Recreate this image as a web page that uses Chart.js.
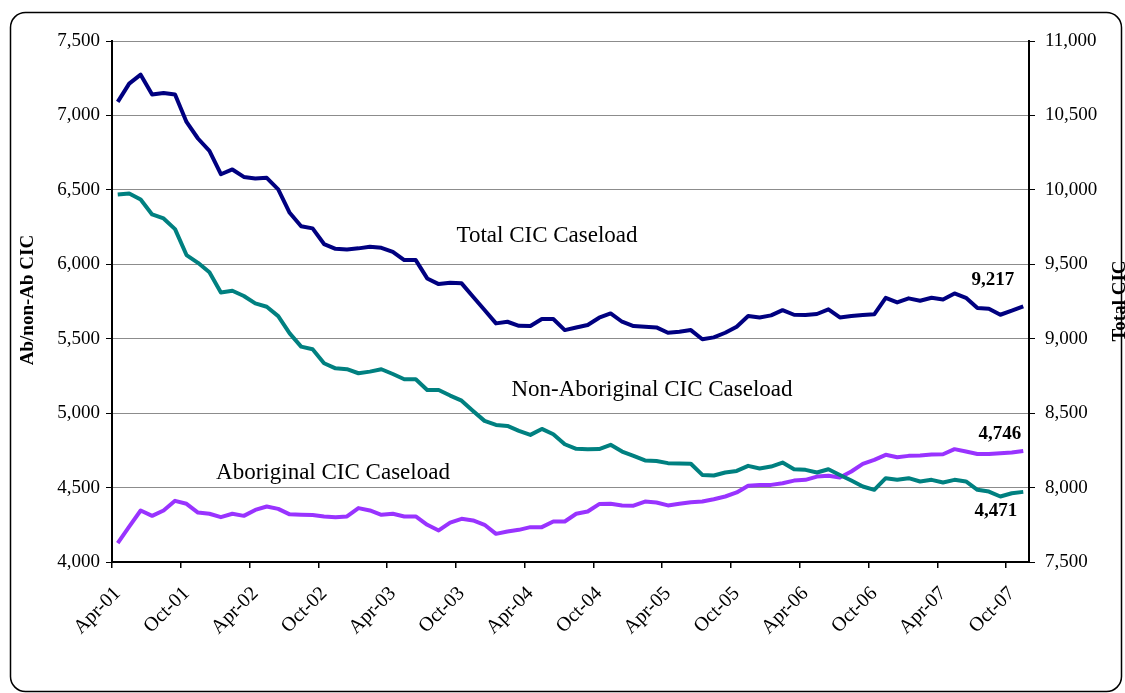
<!DOCTYPE html>
<html><head><meta charset="utf-8">
<script src="https://cdn.jsdelivr.net/npm/chart.js@4/dist/chart.umd.min.js"></script>
<style>html,body{margin:0;padding:0;background:#fff;}#wrap{width:1125px;height:693px;position:relative;}</style>
</head><body><div id="wrap"><canvas id="c" width="1125" height="693"></canvas></div>
<script>
const categories = [
 'Apr-01','May-01','Jun-01','Jul-01','Aug-01','Sep-01','Oct-01','Nov-01','Dec-01','Jan-02','Feb-02','Mar-02',
 'Apr-02','May-02','Jun-02','Jul-02','Aug-02','Sep-02','Oct-02','Nov-02','Dec-02','Jan-03','Feb-03','Mar-03',
 'Apr-03','May-03','Jun-03','Jul-03','Aug-03','Sep-03','Oct-03','Nov-03','Dec-03','Jan-04','Feb-04','Mar-04',
 'Apr-04','May-04','Jun-04','Jul-04','Aug-04','Sep-04','Oct-04','Nov-04','Dec-04','Jan-05','Feb-05','Mar-05',
 'Apr-05','May-05','Jun-05','Jul-05','Aug-05','Sep-05','Oct-05','Nov-05','Dec-05','Jan-06','Feb-06','Mar-06',
 'Apr-06','May-06','Jun-06','Jul-06','Aug-06','Sep-06','Oct-06','Nov-06','Dec-06','Jan-07','Feb-07','Mar-07',
 'Apr-07','May-07','Jun-07','Jul-07','Aug-07','Sep-07','Oct-07','Nov-07'];

const totalCIC = [
 10591,10714,10774,10640,10651,10640,10456,10345,10262,10105,10137,10087,
 10077,10081,10003,9846,9756,9741,9636,9604,9600,9607,9618,9611,
 9584,9528,9528,9405,9367,9376,9372,9282,9193,9103,9114,9087,
 9085,9132,9132,9058,9075,9092,9141,9170,9114,9085,9081,9076,
 9040,9047,9058,8996,9009,9040,9081,9152,9143,9157,9192,9161,
 9159,9166,9197,9143,9152,9159,9164,9275,9244,9271,9255,9275,
 9264,9304,9275,9206,9202,9161,9188,9217];

const nonAboriginalCIC = [
 6469,6476,6435,6335,6308,6236,6062,6010,5946,5811,5822,5787,
 5737,5715,5652,5536,5447,5429,5335,5301,5295,5268,5279,5295,
 5263,5228,5228,5156,5156,5118,5084,5015,4948,4921,4914,4881,
 4854,4894,4858,4791,4760,4757,4759,4787,4742,4713,4682,4679,
 4664,4662,4660,4585,4581,4601,4612,4646,4628,4641,4668,4623,
 4619,4601,4623,4585,4547,4507,4485,4563,4552,4563,4541,4552,
 4534,4552,4541,4485,4473,4440,4462,4471];

const aboriginalCIC = [
 4127,4238,4346,4310,4346,4411,4391,4332,4324,4301,4324,4310,
 4350,4373,4357,4320,4318,4316,4306,4301,4306,4362,4346,4317,
 4324,4306,4306,4250,4212,4265,4290,4279,4250,4189,4205,4216,
 4234,4234,4272,4272,4324,4339,4389,4391,4380,4378,4406,4400,
 4380,4391,4402,4406,4422,4440,4467,4512,4518,4518,4529,4547,
 4552,4574,4579,4567,4608,4659,4686,4720,4704,4713,4716,4722,
 4724,4758,4742,4726,4726,4731,4735,4746];

const leftAxisRange = [4000, 7500];
const rightAxisRange = [7500, 11000];
const tickStep = 500;
const seriesNames = ['Total CIC Caseload','Non-Aboriginal CIC Caseload','Aboriginal CIC Caseload'];
const axisTitles = ['Ab/non-Ab CIC','Total CIC'];

const SERIF = '"Liberation Serif", "Times New Roman", serif';
const fmt = v => Number(v).toLocaleString('en-US');

const overlay = {
  id: 'overlay',
  afterDraw(chart) {
    const ctx = chart.ctx;
    ctx.save();
    // outer frame
    ctx.strokeStyle = '#000'; ctx.lineWidth = 1.5;
    ctx.beginPath();
    if (ctx.roundRect) ctx.roundRect(10.5, 12.5, 1111, 679, 15); else ctx.rect(10.5, 12.5, 1111, 679);
    ctx.stroke();
    ctx.fillStyle = '#000';
    // axis titles
    ctx.font = 'bold 19px ' + SERIF;
    ctx.textAlign = 'center'; ctx.textBaseline = 'middle';
    ctx.save(); ctx.translate(28, 300); ctx.rotate(-Math.PI / 2); ctx.fillText(axisTitles[0], 0, 0); ctx.restore();
    ctx.save(); ctx.translate(1120, 301); ctx.rotate(-Math.PI / 2); ctx.fillText(axisTitles[1], 0, 0); ctx.restore();
    // series names
    ctx.font = '23px ' + SERIF;
    ctx.textBaseline = 'alphabetic';
    ctx.fillText(seriesNames[0], 547, 242);
    ctx.fillText(seriesNames[1], 652, 396);
    ctx.fillText(seriesNames[2], 333, 479);
    // last-value labels anchored to last points
    ctx.font = 'bold 19px ' + SERIF;
    ctx.textAlign = 'right';
    const offs = [[-9, -21], [-6, 24], [-2, -12]];
    chart.data.datasets.forEach((ds, di) => {
      const meta = chart.getDatasetMeta(di);
      const p = meta.data[meta.data.length - 1];
      const v = ds.data[ds.data.length - 1];
      ctx.fillText(fmt(v), p.x + offs[di][0], p.y + offs[di][1]);
    });
    ctx.restore();
  }
};

new Chart(document.getElementById('c'), {
  type: 'line',
  data: {
    labels: categories,
    datasets: [
      { label: seriesNames[0], data: totalCIC, yAxisID: 'y1', borderColor: '#000080', borderWidth: 4, pointRadius: 0, tension: 0, borderJoinStyle: 'round' },
      { label: seriesNames[1], data: nonAboriginalCIC, yAxisID: 'y', borderColor: '#008080', borderWidth: 4, pointRadius: 0, tension: 0, borderJoinStyle: 'round' },
      { label: seriesNames[2], data: aboriginalCIC, yAxisID: 'y', borderColor: '#9933FF', borderWidth: 4, pointRadius: 0, tension: 0, borderJoinStyle: 'round' }
    ]
  },
  options: {
    responsive: false,
    animation: false,
    devicePixelRatio: 1,
    layout: { padding: { top: 41, left: 0, right: 0, bottom: 0 } },
    plugins: { legend: { display: false }, tooltip: { enabled: false }, title: { display: false } },
    scales: {
      x: {
        type: 'category',
        offset: true,
        grid: { offset: true, drawOnChartArea: false, drawTicks: true, tickLength: 6, lineWidth: 1.5,
                tickColor: c => (c.index !== undefined && c.index % 6 === 0) ? '#000' : 'rgba(0,0,0,0)' },
        border: { display: true, color: '#000', width: 2 },
        ticks: { autoSkip: false, maxRotation: 45, minRotation: 45, padding: 14, color: '#000',
                 font: { family: SERIF, size: 20 },
                 callback: (v, i) => (i % 6 === 0 ? categories[i] : '') },
        afterFit: s => { s.height = 131; }
      },
      y: {
        position: 'left',
        min: leftAxisRange[0], max: leftAxisRange[1],
        ticks: { stepSize: tickStep, padding: 6, color: '#000', font: { family: SERIF, size: 19 }, callback: v => fmt(v) },
        grid: { color: '#8c8c8c', lineWidth: 1, tickLength: 6, tickColor: '#000' },
        border: { display: true, color: '#000', width: 2 },
        afterFit: s => { s.width = 112; }
      },
      y1: {
        position: 'right',
        min: rightAxisRange[0], max: rightAxisRange[1],
        ticks: { stepSize: tickStep, padding: 10, color: '#000', font: { family: SERIF, size: 19 }, callback: v => fmt(v) },
        grid: { drawOnChartArea: false, tickLength: 6, tickColor: '#000' },
        border: { display: true, color: '#000', width: 2 },
        afterFit: s => { s.width = 96; }
      }
    }
  },
  plugins: [overlay]
});
</script></body></html>
